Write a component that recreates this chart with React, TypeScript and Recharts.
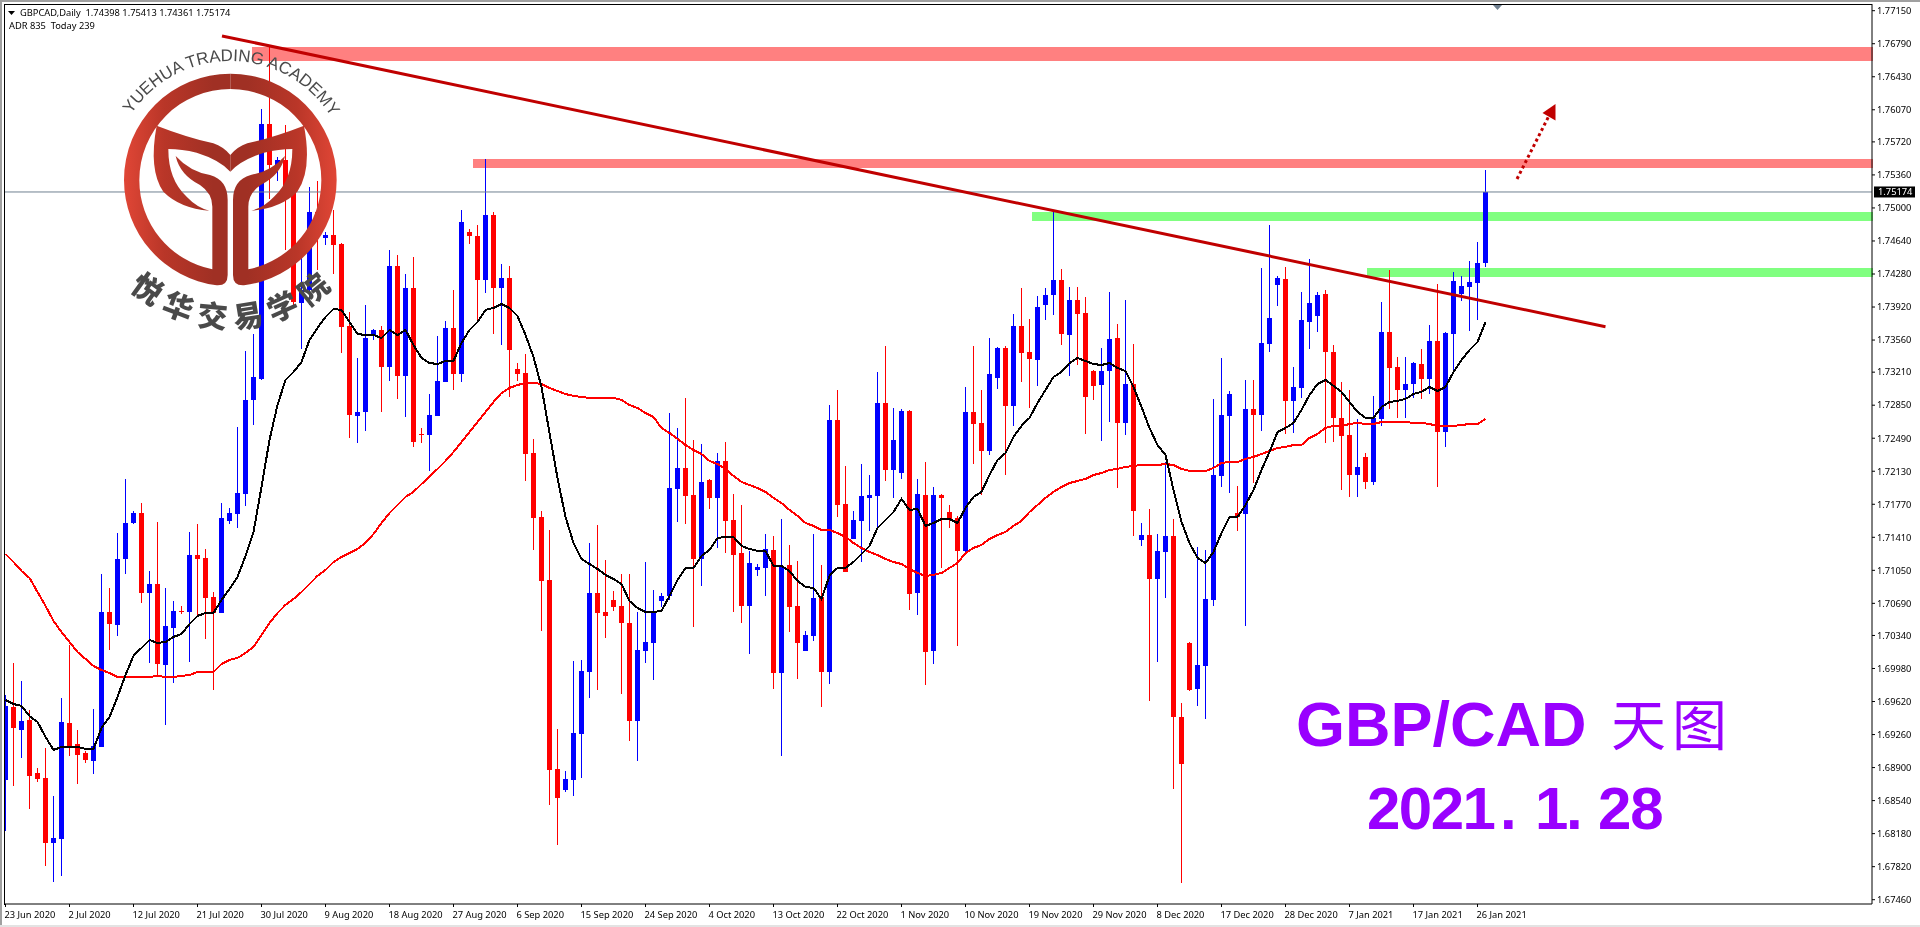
import React from 'react';
import { ComposedChart, Bar, Line, XAxis, YAxis, ReferenceArea, ReferenceLine } from 'recharts';

const POINT = 0.00001;
const opens = [
168765,169561,169310,169419,168841,168787,168078,168122,169386,169157,
169059,168972,169125,170596,170454,171174,171566,171675,170803,170901,
170018,170422,170607,170596,171217,171185,170760,170585,171588,171664,
171882,172907,173136,175915,175468,175523,175163,173964,174106,174956,
174673,174705,174607,173714,172733,172776,173615,173670,173267,174368,
173169,174128,172536,172525,172733,173103,173692,173190,174738,174695,
174215,174923,174128,174237,173245,173201,172329,171632,170945,168885,
168656,168765,169266,169942,170803,170596,170727,170662,170476,169408,
170171,170258,170716,170771,171937,172166,171871,171174,172035,171839,
172242,171599,171239,170662,171054,171076,171272,169931,171108,170662,
170171,170335,170760,169942,172689,171773,171392,171588,171839,171861,
172874,172144,172111,172787,170803,171871,170171,171871,171686,171621,
171261,172776,172656,172351,173147,173474,172842,173714,173430,173343,
173942,174051,174215,173615,173997,173855,173223,173070,173223,173583,
172656,173081,171381,171435,170956,171250,171425,169452,170258,169757,
170008,170727,172079,172733,171675,171664,172809,172743,173517,174160,
174226,172896,173038,173757,173823,174062,173430,172711,172525,172089,
172286,172013,172700,173648,173267,173016,173081,173299,173136,173550,
172558,173626,174062,174139,174182,174398];
const closes = [
169572,169332,169408,168809,168776,168078,168133,169397,169125,169037,
168983,169136,170596,170465,171174,171566,171675,170803,170901,170029,
170444,170607,170596,171217,171174,170749,170585,171621,171675,171893,
172907,173158,175915,175468,175523,175163,173975,174106,174956,174695,
174705,174596,173703,172743,172776,173583,173670,173267,174368,173169,
174128,172449,172525,172743,173114,173692,173190,174847,174695,174215,
174923,174128,174237,173452,173190,172318,171621,170934,168874,168569,
168776,169277,169953,170803,170585,170553,170651,170476,169408,170182,
170269,170596,170771,171948,172166,171861,171174,172013,171839,172242,
171588,171217,170662,171130,171087,171283,169931,171098,170651,170258,
170345,170749,169942,172689,171762,171032,171599,171861,171871,172874,
172144,172471,172787,170792,171882,170160,171871,171839,171599,171261,
172776,172645,172351,173190,173474,172842,173714,173419,173354,173921,
174051,174215,173626,173997,173844,172940,173060,173223,173572,172656,
173081,171697,171435,170956,171261,171425,169452,168939,169746,170018,
170738,172089,172743,172972,171632,172809,172743,173528,173801,174237,
172896,173049,173779,173964,174051,173430,172711,172515,172089,172177,
172013,172711,173648,173256,173016,173081,173310,173136,173550,172558,
173637,174204,174149,174193,174400,175174];
const highs = [
169691,170040,169844,169528,168896,169114,168591,169659,170236,169310,
169081,169539,171010,170858,171457,172046,171697,171784,171043,171577,
170858,170716,170662,171468,171555,171283,170814,171784,171730,172613,
173441,173626,176079,176755,175556,175904,175196,174542,175229,175294,
174738,174978,174618,173866,173365,173942,173681,173714,174542,174487,
174280,174466,172602,172972,173605,173768,174106,174978,174771,174814,
175534,174956,174389,174368,173310,173408,172482,171697,171490,169321,
168863,170062,170073,171348,171544,171163,170825,171010,171010,170596,
171141,170836,170803,172765,172602,172929,172471,172427,172046,172329,
172449,171882,171762,171261,171119,171446,171425,171610,171326,171152,
170389,171446,171108,172852,173016,172188,171697,172209,172089,173212,
173496,172820,172809,172798,172046,172231,171959,171882,171762,171643,
173049,173496,173016,173583,173485,173496,173844,174128,173790,174041,
174128,174956,174335,174139,174139,174030,173234,173474,174084,173735,
173997,173517,171566,171719,171446,172231,171610,169604,170269,171305,
171272,172918,173365,173005,171970,173125,173125,174346,174814,174259,
174357,173267,174084,174444,174084,174106,173506,173103,173016,172700,
172329,172951,173975,174324,173376,173376,173321,173463,173724,174171,
173648,174302,174259,174422,174629,175413];
const lows = [
168209,168700,169005,168449,168743,167828,167653,167719,169027,168721,
168950,168830,169125,170182,170335,171010,171555,170694,170040,169899,
169364,169822,170574,170051,170553,170302,169746,170585,171555,171512,
171752,172634,173125,175098,175294,174542,173942,173463,173942,174324,
174596,174280,173419,172493,172438,172569,173561,172776,173114,172918,
172722,172395,172438,172133,172733,173103,173016,173103,174607,173779,
174073,173626,173506,172940,173114,172024,171272,170389,168492,168056,
168634,168591,168787,169659,169746,170313,170607,169702,169190,168972,
170040,169855,170651,170727,171577,171555,170433,170880,171719,171294,
171239,170596,170476,170138,170989,170771,169757,169027,170378,169866,
170171,170280,169561,169811,171632,171032,171392,171141,171479,171490,
172024,171839,172046,170618,170563,169800,170029,171076,171512,170226,
171228,172209,171871,172307,173027,172089,172624,173103,172820,173060,
173779,173833,173506,173169,173288,172536,172907,172460,172667,171948,
172525,171425,171316,169626,170051,170749,168667,167642,169735,169572,
169430,170662,171959,171893,171479,170444,172002,172569,173430,173932,
172536,172547,172929,173463,173648,172438,172449,171926,171850,171850,
171937,171980,172624,172809,172711,172711,172929,172918,172972,171959,
172395,173234,173986,173659,173779,174361];
const maFast = [
169637,169593,169572,169462,169397,169234,169092,169125,169125,169125,
169103,169103,169332,169452,169670,169909,170117,170204,170291,170258,
170269,170324,170356,170465,170553,170585,170585,170727,170847,170978,
171207,171468,171959,172471,172852,173125,173212,173321,173561,173692,
173812,173899,173888,173757,173626,173615,173615,173583,173670,173615,
173670,173506,173365,173310,173299,173332,173332,173528,173670,173757,
173888,173910,173953,173910,173823,173615,173376,173049,172547,172057,
171632,171348,171174,171119,171065,171000,170956,170901,170716,170640,
170596,170596,170607,170771,170945,171076,171076,171207,171272,171403,
171414,171414,171316,171283,171261,171261,171098,171098,171043,170934,
170869,170858,170738,170989,171076,171076,171141,171228,171316,171512,
171599,171686,171828,171708,171719,171534,171566,171610,171610,171566,
171730,171850,171905,172089,172253,172329,172504,172624,172711,172874,
173016,173158,173212,173310,173365,173332,173299,173288,173310,173256,
173223,173049,172831,172602,172416,172307,171926,171577,171348,171185,
171130,171250,171457,171632,171632,171762,171926,172144,172340,172558,
172602,172656,172798,172961,173081,173125,173060,172995,172885,172776,
172711,172711,172831,172885,172896,172918,172972,172995,173049,173005,
173049,173212,173343,173452,173539,173757];
const maSlow = [
171228,171141,171043,170967,170814,170662,170498,170378,170269,170160,
170084,170008,169964,169931,169888,169888,169888,169888,169888,169899,
169888,169888,169899,169909,169942,169942,169942,170029,170073,170095,
170149,170215,170345,170476,170585,170673,170738,170814,170901,170989,
171054,171141,171196,171239,171283,171348,171446,171566,171675,171762,
171850,171905,171991,172068,172155,172242,172340,172449,172558,172667,
172776,172885,172983,173038,173070,173092,173092,173081,173038,173005,
172972,172951,172940,172929,172929,172929,172929,172907,172852,172820,
172765,172722,172602,172547,172482,172416,172362,172318,172242,172209,
172155,172079,172013,171980,171948,171905,171839,171784,171708,171643,
171566,171534,171490,171490,171457,171414,171348,171294,171250,171217,
171174,171141,171119,171065,171021,170989,171000,171021,171076,171130,
171239,171294,171326,171392,171435,171468,171534,171588,171686,171762,
171839,171905,171959,172002,172024,172046,172089,172111,172144,172155,
172177,172188,172198,172198,172198,172209,172198,172155,172133,172133,
172133,172166,172220,172231,172231,172264,172286,172318,172351,172384,
172395,172416,172416,172493,172536,172602,172624,172624,172645,172656,
172645,172645,172667,172667,172667,172667,172656,172656,172645,172624,
172624,172624,172634,172645,172645,172700];
const dateLabels = ['23 Jun 2020','2 Jul 2020','12 Jul 2020','21 Jul 2020','30 Jul 2020','9 Aug 2020','18 Aug 2020','27 Aug 2020','6 Sep 2020','15 Sep 2020','24 Sep 2020','4 Oct 2020','13 Oct 2020','22 Oct 2020','1 Nov 2020','10 Nov 2020','19 Nov 2020','29 Nov 2020','8 Dec 2020','17 Dec 2020','28 Dec 2020','7 Jan 2021','17 Jan 2021','26 Jan 2021'];
const priceTicks = [1.7715,1.7679,1.7643,1.7607,1.7572,1.7536,1.75,1.7464,1.7428,1.7392,1.7356,1.7321,1.7285,1.7249,1.7213,1.7177,1.7141,1.7105,1.7069,1.7034,1.6998,1.6962,1.6926,1.689,1.6854,1.6818,1.6782,1.6746];
const lastPrice = 1.75174;
const header = ['1.74398','1.75413','1.74361','1.75174'];
const X_MIN = -0.0625;
const X_MAX = 233.3125;
const bands = [
  { from: 30.8, y1: 1.76755, y2: 1.76602, fill: '#FF8080' },
  { from: 58.44, y1: 1.75534, y2: 1.75435, fill: '#FF8080' },
  { from: 128.3, y1: 1.74956, y2: 1.74858, fill: '#80FF80' },
  { from: 170.2, y1: 1.74345, y2: 1.74247, fill: '#80FF80' },
];
const trend = [{ x: 27.06, y: 1.76875 }, { x: 200, y: 1.73706 }];
const arrow = [{ x: 188.94, y: 1.75316 }, { x: 193.3, y: 1.76068 }];

const rows = opens.map((o, i) => ({
  i,
  open: o * POINT,
  close: closes[i] * POINT,
  high: highs[i] * POINT,
  low: lows[i] * POINT,
  range: [lows[i] * POINT, highs[i] * POINT],
  fast: maFast[i] * POINT,
  slow: maSlow[i] * POINT,
}));
const dateTicks = dateLabels.map((_, k) => k * 8);
const UI = '"Noto Sans", sans-serif';
const UI_SIZE = 9.3;

const Candle = (p: any) => {
  const { x, y, width, height, payload } = p;
  const cx = x + width / 2;
  const s = height / (payload.high - payload.low);
  const at = (v: number) => y + (payload.high - v) * s;
  const top = Math.round(at(Math.max(payload.open, payload.close)));
  const bottom = Math.round(at(Math.min(payload.open, payload.close)));
  const c = payload.close >= payload.open ? '#0000FF' : '#FF0000';
  return (
    <g shapeRendering="crispEdges" style={{ mixBlendMode: 'multiply' }}>
      <rect x={cx - 0.5} y={y} width={1} height={height} fill={c} />
      <rect x={cx - 2.5} y={top} width={5} height={Math.max(1, bottom - top)} fill={c} />
    </g>
  );
};

const BandShape = (fill: string) => (p: any) => (
  <rect x={p.x} y={p.y} width={p.width + 1} height={p.height} fill={fill} style={{ mixBlendMode: 'multiply' }} shapeRendering="crispEdges" />
);

const DateTick = (p: any) => (
  <text x={p.x - 1} y={p.y + 9} textAnchor="start" fontFamily={UI} fontSize={UI_SIZE} fill="#000">
    {dateLabels[Math.round(p.payload.value / 8)]}
  </text>
);

const PriceTag = (p: any) => {
  const vb = p.viewBox;
  const right = vb.x + vb.width;
  return (
    <g>
      <rect x={right + 2} y={vb.y - 5.5} width={41} height={11} fill="#000" />
      <text x={right + 6} y={vb.y + 3.5} fontFamily={UI} fontSize={UI_SIZE} fill="#fff">{lastPrice.toFixed(5)}</text>
    </g>
  );
};

const LEAF = 'M 470 377 Q 560 412 640 430 Q 670 440 691 465 L 691 515 Q 660 480 590 458 Q 545 447 505 447 Q 505 540 560 590 Q 590 622 628 632 Q 540 625 490 575 Q 445 510 470 377 Z';
const RING_HALF = 'M 637 808 L 637 620 Q 637 580 600 555 Q 540 525 527 468 Q 570 515 630 525 Q 683 540 683 600 L 683 825 Q 683 858 650 856 A 319 319 0 0 1 372 540 A 319 319 0 0 1 691 221 L 691 267 A 273 273 0 0 0 418 540 A 273 273 0 0 0 637 808 Z';

const Overlay = () => (
  <svg width={1920} height={927} style={{ position: 'absolute', left: 0, top: 0, pointerEvents: 'none' }}>
    <defs>
      <linearGradient id="ringGrad" gradientUnits="userSpaceOnUse" x1="372" y1="0" x2="640" y2="0">
        <stop offset="0" stopColor="#E04636" />
        <stop offset="0.45" stopColor="#B93628" />
        <stop offset="1" stopColor="#A03024" />
      </linearGradient>
      <path id="arcTop" d="M 111.3 180 A 119 119 0 0 1 349.3 180" />
      <path id="arcBottom" d="M 82.3 180 A 148 148 0 0 0 378.3 180" />
    </defs>
    {/* window frame */}
    <rect x={0} y={0} width={1920} height={2} fill="#A0A0A0" />
    <rect x={0} y={0} width={2} height={927} fill="#A0A0A0" />
    <rect x={0} y={925} width={1920} height={2} fill="#E3E3E3" />
    <rect x={2} y={2} width={2} height={904} fill="#fff" />
    <rect x={4} y={4} width={1868} height={1} fill="#000" />
    <rect x={4} y={4} width={1} height={901} fill="#000" />
    <polygon points="1493,5 1502,5 1497.5,10" fill="#708090" />
    {/* header */}
    <polygon points="8,11 15,11 11.5,15" fill="#000" />
    <text x={20} y={16} fontFamily={UI} fontSize={UI_SIZE} fill="#000" xmlSpace="preserve">{'GBPCAD,Daily  ' + header.join(' ')}</text>
    <text x={9} y={29} fontFamily={UI} fontSize={UI_SIZE} fill="#000" xmlSpace="preserve">ADR 835  Today 239</text>
    {/* arrow head */}
    <polygon points="1555.5,104 1542.5,113 1555.5,120.5" fill="#C00000" />
    {/* logo */}
    <g transform="scale(0.33333)" fill="url(#ringGrad)">
      <path d={LEAF} />
      <path d={RING_HALF} />
      <g transform="translate(1382,0) scale(-1,1)">
        <path d={LEAF} />
        <path d={RING_HALF} />
      </g>
    </g>
    <text fontFamily='"Liberation Sans", sans-serif' fontSize={16.9} fill="#4A4A4A" textAnchor="middle">
      <textPath href="#arcTop" startOffset="50.4%">YUEHUA TRADING ACADEMY</textPath>
    </text>
    <text fontFamily='"Noto Sans CJK SC", sans-serif' fontWeight={900} fontSize={30} fill="#4A4A4A" textAnchor="middle" letterSpacing={8.5}>
      <textPath href="#arcBottom" startOffset="51%">悦华交易学院</textPath>
    </text>
    {/* caption */}
    <text x={1296} y={746} fontFamily='"Liberation Sans", sans-serif' fontWeight={700} fontSize={63} fill="#9900FF">GBP/CAD</text>
    <text x={1611} y={745} fontFamily='"Noto Sans CJK SC", serif' fontSize={55} fill="#9900FF" letterSpacing={6}>天图</text>
    <text y={829} fontFamily='"Liberation Sans", sans-serif' fontWeight={700} fontSize={60} fill="#9900FF">
      <tspan x={1367} letterSpacing={-1.5}>2021</tspan><tspan x={1500}>.</tspan><tspan x={1535}>1</tspan><tspan x={1566}>.</tspan><tspan x={1598} letterSpacing={-1}>28</tspan>
    </text>
  </svg>
);

export default function App() {
  return (
    <div style={{ position: 'absolute', left: 0, top: 0, width: 1920, height: 927, background: '#fff', overflow: 'hidden' }}>
      <ComposedChart width={1920} height={927} data={rows} margin={{ top: 4, right: 0, bottom: 0, left: 5 }}>
        <XAxis dataKey="i" type="number" domain={[X_MIN, X_MAX]} ticks={dateTicks} interval={0} height={23} allowDataOverflow
          tick={DateTick} tickSize={3} stroke="#000" axisLine={{ stroke: '#000' }} tickLine={{ stroke: '#000' }} />
        <YAxis orientation="right" width={48} type="number" domain={[1.67413, 1.77223]} ticks={priceTicks} interval={0} allowDataOverflow
          tickFormatter={(v: number) => v.toFixed(5)} tickSize={3} tickMargin={2}
          tick={{ fontFamily: UI, fontSize: UI_SIZE, fill: '#000' }} axisLine={{ stroke: '#000' }} tickLine={{ stroke: '#000' }} />
        <Bar dataKey="range" barSize={5} isAnimationActive={false} shape={Candle} />
        {bands.map((b) => (
          <ReferenceArea key={b.from} x1={b.from} x2={X_MAX} y1={b.y1} y2={b.y2} ifOverflow="visible" shape={BandShape(b.fill)} />
        ))}
        <Line dataKey="slow" dot={false} activeDot={false} stroke="#FF0000" strokeWidth={2} shapeRendering="crispEdges" isAnimationActive={false} />
        <Line dataKey="fast" dot={false} activeDot={false} stroke="#000000" strokeWidth={2} shapeRendering="crispEdges" isAnimationActive={false} />
        <ReferenceLine y={lastPrice} stroke="#708090" strokeWidth={1} label={PriceTag} />
        <ReferenceLine segment={trend} stroke="#C00000" strokeWidth={3} ifOverflow="visible" />
        <ReferenceLine segment={arrow} stroke="#C00000" strokeWidth={3} strokeDasharray="3 3" ifOverflow="visible" />
      </ComposedChart>
      <Overlay />
    </div>
  );
}
